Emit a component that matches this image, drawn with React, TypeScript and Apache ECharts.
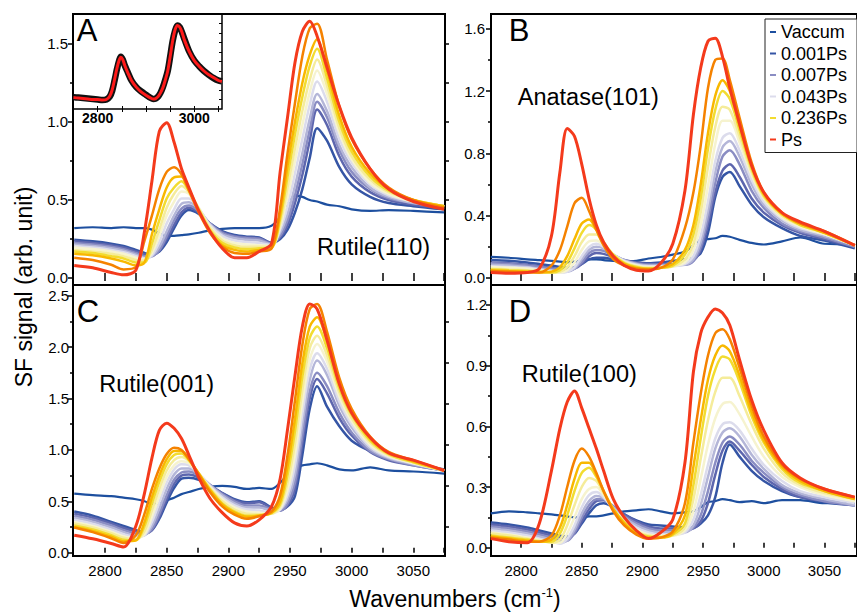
import React, { useEffect, useRef } from 'react';
import * as echarts from 'echarts';

// ---------- data ----------
const wavenumbers = [2775, 2790, 2805, 2815, 2825, 2832, 2838, 2844, 2850, 2856, 2862, 2868, 2876, 2885, 2895, 2905, 2915, 2925, 2935, 2942, 2948, 2954, 2960, 2966, 2972, 2980, 2990, 3000, 3015, 3030, 3050, 3075];

const seriesNames = ['Vaccum', '0.001Ps', 'trace 2', '0.007Ps', 'trace 4', '0.043Ps', 'trace 6', 'trace 7', '0.236Ps', 'trace 9', 'trace 10', 'Ps'];
const legendNames = ['Vaccum', '0.001Ps', '0.007Ps', '0.043Ps', '0.236Ps', 'Ps'];
const lineColors = ['#1d4f9f', '#3555a5', '#5d66ae', '#8a8dc3', '#b4b6d8', '#dcdcec', '#f6f3cf', '#f5ec9a', '#f2dc30', '#f8b800', '#f58200', '#f43a1c'];

// Rutile(110) - panel A
const rutile110Values = [
  [0.32, 0.325, 0.32, 0.325, 0.32, 0.32, 0.31, 0.285, 0.27, 0.27, 0.275, 0.28, 0.29, 0.305, 0.315, 0.32, 0.32, 0.32, 0.335, 0.39, 0.47, 0.53, 0.52, 0.50, 0.49, 0.47, 0.46, 0.44, 0.43, 0.435, 0.43, 0.42],
  [0.245, 0.235, 0.22, 0.205, 0.18, 0.16, 0.15, 0.17, 0.23, 0.32, 0.40, 0.435, 0.41, 0.35, 0.30, 0.275, 0.265, 0.26, 0.225, 0.25, 0.31, 0.42, 0.57, 0.77, 0.96, 0.88, 0.71, 0.60, 0.52, 0.48, 0.46, 0.44],
  [0.235, 0.225, 0.21, 0.195, 0.17, 0.15, 0.145, 0.175, 0.25, 0.34, 0.42, 0.45, 0.42, 0.35, 0.295, 0.27, 0.26, 0.255, 0.225, 0.26, 0.34, 0.48, 0.66, 0.88, 1.08, 0.98, 0.78, 0.65, 0.55, 0.50, 0.47, 0.45],
  [0.225, 0.215, 0.2, 0.185, 0.16, 0.14, 0.14, 0.18, 0.27, 0.37, 0.445, 0.465, 0.43, 0.35, 0.29, 0.265, 0.255, 0.25, 0.22, 0.27, 0.37, 0.53, 0.73, 0.95, 1.13, 1.03, 0.82, 0.68, 0.57, 0.51, 0.48, 0.46],
  [0.215, 0.205, 0.19, 0.175, 0.15, 0.13, 0.14, 0.2, 0.30, 0.40, 0.475, 0.485, 0.44, 0.345, 0.28, 0.255, 0.245, 0.24, 0.215, 0.29, 0.41, 0.59, 0.80, 1.02, 1.18, 1.07, 0.85, 0.71, 0.58, 0.52, 0.48, 0.46],
  [0.205, 0.195, 0.18, 0.165, 0.14, 0.125, 0.145, 0.23, 0.35, 0.44, 0.51, 0.51, 0.445, 0.34, 0.27, 0.24, 0.23, 0.225, 0.21, 0.31, 0.46, 0.67, 0.89, 1.11, 1.26, 1.13, 0.89, 0.74, 0.60, 0.53, 0.49, 0.46],
  [0.195, 0.185, 0.17, 0.155, 0.13, 0.12, 0.16, 0.27, 0.40, 0.49, 0.555, 0.54, 0.45, 0.33, 0.255, 0.225, 0.215, 0.21, 0.205, 0.33, 0.52, 0.75, 0.98, 1.19, 1.33, 1.18, 0.93, 0.76, 0.61, 0.54, 0.49, 0.46],
  [0.18, 0.17, 0.155, 0.14, 0.115, 0.11, 0.18, 0.31, 0.45, 0.54, 0.59, 0.55, 0.445, 0.32, 0.24, 0.21, 0.2, 0.2, 0.2, 0.35, 0.58, 0.83, 1.07, 1.27, 1.40, 1.23, 0.96, 0.78, 0.63, 0.55, 0.50, 0.46],
  [0.17, 0.16, 0.14, 0.125, 0.1, 0.1, 0.22, 0.37, 0.51, 0.58, 0.62, 0.56, 0.44, 0.31, 0.225, 0.195, 0.185, 0.19, 0.195, 0.38, 0.65, 0.92, 1.16, 1.36, 1.47, 1.28, 1.00, 0.81, 0.65, 0.56, 0.50, 0.46],
  [0.155, 0.145, 0.125, 0.105, 0.08, 0.1, 0.28, 0.44, 0.58, 0.645, 0.65, 0.57, 0.43, 0.30, 0.21, 0.18, 0.17, 0.18, 0.19, 0.41, 0.72, 1.00, 1.25, 1.43, 1.53, 1.33, 1.04, 0.84, 0.67, 0.57, 0.50, 0.46],
  [0.13, 0.115, 0.085, 0.055, 0.07, 0.24, 0.40, 0.57, 0.68, 0.71, 0.665, 0.56, 0.42, 0.29, 0.20, 0.16, 0.155, 0.17, 0.19, 0.45, 0.80, 1.12, 1.42, 1.60, 1.63, 1.40, 1.10, 0.89, 0.70, 0.58, 0.50, 0.45],
  [0.08, 0.065, 0.035, 0.02, 0.05, 0.30, 0.62, 0.94, 0.995, 0.87, 0.70, 0.58, 0.43, 0.30, 0.19, 0.13, 0.13, 0.17, 0.22, 0.68, 1.03, 1.38, 1.58, 1.645, 1.55, 1.35, 1.10, 0.90, 0.70, 0.57, 0.49, 0.44],
];

// Anatase(101) - panel B
const anatase101Values = [
  [0.135, 0.13, 0.12, 0.115, 0.11, 0.105, 0.10, 0.105, 0.11, 0.12, 0.12, 0.115, 0.11, 0.105, 0.11, 0.125, 0.135, 0.15, 0.17, 0.21, 0.245, 0.25, 0.255, 0.27, 0.265, 0.245, 0.225, 0.215, 0.235, 0.26, 0.22, 0.215],
  [0.115, 0.11, 0.10, 0.09, 0.08, 0.07, 0.065, 0.07, 0.09, 0.12, 0.13, 0.13, 0.12, 0.11, 0.10, 0.095, 0.10, 0.11, 0.12, 0.13, 0.16, 0.29, 0.52, 0.65, 0.68, 0.59, 0.47, 0.39, 0.32, 0.27, 0.24, 0.19],
  [0.10, 0.095, 0.085, 0.075, 0.065, 0.055, 0.05, 0.06, 0.09, 0.14, 0.16, 0.155, 0.135, 0.115, 0.10, 0.09, 0.09, 0.09, 0.09, 0.11, 0.18, 0.34, 0.55, 0.69, 0.73, 0.65, 0.51, 0.42, 0.34, 0.29, 0.25, 0.20],
  [0.095, 0.09, 0.08, 0.07, 0.06, 0.05, 0.045, 0.06, 0.10, 0.16, 0.18, 0.175, 0.145, 0.115, 0.095, 0.085, 0.085, 0.085, 0.085, 0.11, 0.20, 0.38, 0.61, 0.78, 0.82, 0.73, 0.56, 0.45, 0.35, 0.30, 0.26, 0.20],
  [0.085, 0.08, 0.07, 0.06, 0.05, 0.04, 0.04, 0.06, 0.12, 0.18, 0.20, 0.19, 0.15, 0.115, 0.09, 0.08, 0.08, 0.08, 0.085, 0.12, 0.23, 0.43, 0.68, 0.84, 0.88, 0.78, 0.60, 0.47, 0.37, 0.31, 0.27, 0.21],
  [0.075, 0.07, 0.065, 0.055, 0.045, 0.035, 0.04, 0.07, 0.14, 0.20, 0.22, 0.20, 0.15, 0.11, 0.085, 0.075, 0.075, 0.075, 0.09, 0.14, 0.27, 0.49, 0.75, 0.90, 0.93, 0.82, 0.63, 0.49, 0.38, 0.32, 0.28, 0.21],
  [0.07, 0.065, 0.06, 0.05, 0.04, 0.035, 0.05, 0.10, 0.18, 0.235, 0.24, 0.21, 0.15, 0.105, 0.08, 0.07, 0.07, 0.075, 0.10, 0.18, 0.34, 0.59, 0.86, 1.01, 1.01, 0.87, 0.66, 0.51, 0.39, 0.33, 0.28, 0.21],
  [0.06, 0.055, 0.05, 0.045, 0.035, 0.04, 0.07, 0.14, 0.23, 0.28, 0.28, 0.22, 0.15, 0.10, 0.075, 0.065, 0.065, 0.075, 0.12, 0.22, 0.42, 0.71, 0.97, 1.10, 1.08, 0.91, 0.68, 0.52, 0.40, 0.34, 0.29, 0.21],
  [0.055, 0.05, 0.045, 0.04, 0.035, 0.05, 0.10, 0.19, 0.29, 0.34, 0.31, 0.23, 0.15, 0.095, 0.07, 0.06, 0.065, 0.08, 0.15, 0.28, 0.51, 0.83, 1.08, 1.20, 1.15, 0.95, 0.70, 0.53, 0.41, 0.34, 0.29, 0.21],
  [0.05, 0.045, 0.04, 0.035, 0.04, 0.07, 0.14, 0.25, 0.35, 0.375, 0.31, 0.22, 0.14, 0.09, 0.065, 0.06, 0.065, 0.09, 0.18, 0.34, 0.60, 0.93, 1.17, 1.27, 1.20, 0.98, 0.72, 0.54, 0.41, 0.35, 0.29, 0.21],
  [0.045, 0.04, 0.035, 0.035, 0.08, 0.18, 0.33, 0.48, 0.515, 0.43, 0.31, 0.21, 0.12, 0.08, 0.06, 0.055, 0.065, 0.12, 0.32, 0.55, 0.85, 1.22, 1.40, 1.41, 1.27, 1.03, 0.74, 0.55, 0.42, 0.35, 0.30, 0.21],
  [0.035, 0.03, 0.035, 0.06, 0.27, 0.68, 0.96, 0.91, 0.73, 0.51, 0.34, 0.23, 0.14, 0.08, 0.05, 0.045, 0.095, 0.22, 0.56, 1.05, 1.35, 1.52, 1.54, 1.42, 1.22, 0.99, 0.72, 0.55, 0.42, 0.36, 0.30, 0.21],
];

// Rutile(001) - panel C
const rutile001Values = [
  [0.575, 0.56, 0.55, 0.535, 0.52, 0.50, 0.475, 0.48, 0.51, 0.535, 0.57, 0.59, 0.62, 0.64, 0.65, 0.64, 0.62, 0.63, 0.62, 0.68, 0.76, 0.82, 0.85, 0.86, 0.87, 0.85, 0.81, 0.80, 0.83, 0.80, 0.79, 0.77],
  [0.40, 0.36, 0.30, 0.26, 0.22, 0.20, 0.22, 0.33, 0.49, 0.63, 0.72, 0.73, 0.71, 0.65, 0.58, 0.52, 0.49, 0.50, 0.44, 0.42, 0.45, 0.55, 0.95, 1.40, 1.62, 1.42, 1.23, 1.09, 0.99, 0.93, 0.87, 0.81],
  [0.38, 0.34, 0.285, 0.24, 0.205, 0.19, 0.22, 0.35, 0.52, 0.67, 0.75, 0.76, 0.73, 0.66, 0.58, 0.51, 0.48, 0.49, 0.43, 0.41, 0.46, 0.62, 1.06, 1.50, 1.69, 1.55, 1.31, 1.14, 0.98, 0.90, 0.85, 0.80],
  [0.36, 0.32, 0.265, 0.22, 0.19, 0.18, 0.23, 0.38, 0.56, 0.71, 0.78, 0.79, 0.75, 0.66, 0.57, 0.50, 0.46, 0.46, 0.42, 0.41, 0.48, 0.68, 1.14, 1.57, 1.75, 1.62, 1.36, 1.17, 0.99, 0.91, 0.85, 0.80],
  [0.34, 0.30, 0.245, 0.20, 0.17, 0.17, 0.26, 0.43, 0.62, 0.76, 0.82, 0.82, 0.76, 0.66, 0.56, 0.48, 0.44, 0.44, 0.41, 0.42, 0.52, 0.76, 1.25, 1.68, 1.87, 1.73, 1.43, 1.22, 1.01, 0.92, 0.86, 0.80],
  [0.32, 0.28, 0.225, 0.18, 0.155, 0.17, 0.30, 0.49, 0.68, 0.81, 0.86, 0.85, 0.77, 0.65, 0.54, 0.46, 0.42, 0.41, 0.39, 0.42, 0.56, 0.85, 1.35, 1.78, 1.94, 1.79, 1.47, 1.25, 1.03, 0.93, 0.87, 0.80],
  [0.30, 0.26, 0.205, 0.16, 0.14, 0.18, 0.35, 0.55, 0.74, 0.85, 0.89, 0.87, 0.77, 0.64, 0.52, 0.44, 0.40, 0.39, 0.38, 0.43, 0.61, 0.95, 1.46, 1.88, 2.03, 1.86, 1.52, 1.28, 1.05, 0.94, 0.87, 0.80],
  [0.285, 0.245, 0.19, 0.145, 0.13, 0.21, 0.41, 0.62, 0.80, 0.90, 0.93, 0.89, 0.77, 0.63, 0.50, 0.42, 0.38, 0.375, 0.38, 0.45, 0.68, 1.06, 1.58, 1.99, 2.11, 1.92, 1.56, 1.31, 1.07, 0.95, 0.88, 0.80],
  [0.265, 0.225, 0.17, 0.125, 0.12, 0.26, 0.48, 0.69, 0.86, 0.95, 0.965, 0.90, 0.77, 0.62, 0.48, 0.40, 0.36, 0.365, 0.385, 0.47, 0.76, 1.18, 1.71, 2.09, 2.20, 1.99, 1.60, 1.34, 1.09, 0.96, 0.88, 0.80],
  [0.25, 0.21, 0.155, 0.11, 0.12, 0.30, 0.54, 0.75, 0.91, 0.99, 0.99, 0.91, 0.77, 0.61, 0.47, 0.39, 0.35, 0.36, 0.39, 0.50, 0.84, 1.30, 1.84, 2.20, 2.29, 2.06, 1.65, 1.37, 1.11, 0.97, 0.89, 0.80],
  [0.245, 0.20, 0.14, 0.095, 0.17, 0.38, 0.62, 0.82, 0.96, 1.02, 1.00, 0.91, 0.76, 0.59, 0.45, 0.37, 0.33, 0.355, 0.40, 0.56, 0.95, 1.48, 2.02, 2.37, 2.42, 2.15, 1.70, 1.40, 1.13, 0.98, 0.90, 0.80],
  [0.17, 0.135, 0.09, 0.055, 0.26, 0.58, 0.92, 1.19, 1.26, 1.21, 1.11, 0.95, 0.73, 0.53, 0.39, 0.29, 0.26, 0.32, 0.45, 0.72, 1.20, 1.72, 2.20, 2.42, 2.37, 2.07, 1.64, 1.36, 1.12, 0.97, 0.90, 0.80],
];

// Rutile(100) - panel D
const rutile100Values = [
  [0.17, 0.18, 0.175, 0.17, 0.165, 0.16, 0.155, 0.15, 0.15, 0.155, 0.155, 0.16, 0.17, 0.18, 0.185, 0.19, 0.18, 0.17, 0.175, 0.18, 0.20, 0.225, 0.23, 0.24, 0.235, 0.225, 0.23, 0.22, 0.235, 0.235, 0.22, 0.22],
  [0.125, 0.115, 0.10, 0.085, 0.07, 0.06, 0.055, 0.07, 0.12, 0.17, 0.21, 0.22, 0.20, 0.165, 0.135, 0.115, 0.11, 0.105, 0.10, 0.10, 0.12, 0.16, 0.25, 0.42, 0.51, 0.45, 0.38, 0.33, 0.28, 0.25, 0.225, 0.21],
  [0.115, 0.105, 0.09, 0.075, 0.06, 0.05, 0.045, 0.07, 0.13, 0.19, 0.23, 0.235, 0.205, 0.165, 0.13, 0.105, 0.095, 0.095, 0.09, 0.095, 0.13, 0.22, 0.36, 0.48, 0.525, 0.48, 0.41, 0.35, 0.29, 0.25, 0.23, 0.21],
  [0.105, 0.095, 0.08, 0.065, 0.05, 0.035, 0.035, 0.075, 0.15, 0.21, 0.24, 0.24, 0.20, 0.155, 0.12, 0.095, 0.085, 0.085, 0.08, 0.10, 0.16, 0.28, 0.42, 0.52, 0.55, 0.51, 0.43, 0.37, 0.30, 0.26, 0.23, 0.21],
  [0.095, 0.085, 0.07, 0.055, 0.04, 0.025, 0.035, 0.09, 0.17, 0.23, 0.255, 0.245, 0.20, 0.15, 0.11, 0.085, 0.075, 0.075, 0.075, 0.11, 0.21, 0.35, 0.49, 0.57, 0.59, 0.55, 0.46, 0.39, 0.31, 0.27, 0.24, 0.21],
  [0.085, 0.075, 0.06, 0.045, 0.03, 0.02, 0.045, 0.11, 0.20, 0.26, 0.275, 0.25, 0.19, 0.14, 0.10, 0.075, 0.065, 0.065, 0.075, 0.14, 0.26, 0.41, 0.54, 0.61, 0.62, 0.58, 0.49, 0.41, 0.33, 0.28, 0.25, 0.22],
  [0.075, 0.065, 0.05, 0.04, 0.025, 0.025, 0.07, 0.15, 0.24, 0.29, 0.30, 0.26, 0.19, 0.135, 0.09, 0.065, 0.06, 0.06, 0.085, 0.18, 0.34, 0.51, 0.64, 0.71, 0.72, 0.66, 0.55, 0.45, 0.35, 0.30, 0.26, 0.23],
  [0.07, 0.06, 0.045, 0.035, 0.025, 0.04, 0.11, 0.21, 0.30, 0.345, 0.33, 0.27, 0.19, 0.13, 0.08, 0.06, 0.055, 0.06, 0.10, 0.24, 0.44, 0.63, 0.77, 0.84, 0.84, 0.75, 0.61, 0.49, 0.37, 0.31, 0.27, 0.24],
  [0.06, 0.05, 0.04, 0.03, 0.03, 0.07, 0.16, 0.28, 0.37, 0.395, 0.35, 0.28, 0.19, 0.125, 0.075, 0.055, 0.05, 0.065, 0.12, 0.31, 0.54, 0.75, 0.88, 0.945, 0.93, 0.82, 0.65, 0.52, 0.39, 0.32, 0.28, 0.24],
  [0.055, 0.045, 0.035, 0.03, 0.04, 0.10, 0.21, 0.34, 0.42, 0.42, 0.36, 0.28, 0.19, 0.12, 0.07, 0.05, 0.05, 0.07, 0.16, 0.40, 0.63, 0.83, 0.95, 1.00, 0.97, 0.85, 0.67, 0.53, 0.40, 0.33, 0.28, 0.24],
  [0.05, 0.04, 0.03, 0.03, 0.06, 0.16, 0.30, 0.43, 0.49, 0.45, 0.37, 0.28, 0.18, 0.11, 0.065, 0.045, 0.05, 0.08, 0.22, 0.52, 0.76, 0.95, 1.06, 1.08, 1.03, 0.89, 0.70, 0.55, 0.41, 0.34, 0.29, 0.25],
  [0.045, 0.03, 0.025, 0.12, 0.38, 0.59, 0.72, 0.775, 0.69, 0.59, 0.49, 0.38, 0.24, 0.15, 0.085, 0.045, 0.075, 0.14, 0.42, 0.87, 1.06, 1.14, 1.18, 1.16, 1.10, 0.93, 0.73, 0.58, 0.42, 0.345, 0.29, 0.25],
];

// Inset of panel A: measured spectrum and fit
const insetWavenumbers = [2750, 2760, 2770, 2780, 2790, 2800, 2810, 2818, 2825, 2830, 2835, 2840, 2845, 2848, 2852, 2856, 2862, 2870, 2880, 2890, 2900, 2910, 2915, 2920, 2925, 2930, 2935, 2940, 2945, 2950, 2955, 2960, 2965, 2970, 2975, 2980, 2990, 3000, 3010, 3020, 3030, 3040, 3050, 3057];
const insetMeasured = [0.125, 0.12, 0.115, 0.11, 0.105, 0.10, 0.095, 0.10, 0.13, 0.19, 0.30, 0.42, 0.52, 0.55, 0.52, 0.46, 0.39, 0.30, 0.23, 0.185, 0.15, 0.115, 0.105, 0.11, 0.13, 0.17, 0.23, 0.31, 0.40, 0.55, 0.71, 0.82, 0.88, 0.86, 0.80, 0.73, 0.60, 0.51, 0.45, 0.40, 0.36, 0.325, 0.30, 0.29];
const insetFit = [0.12, 0.115, 0.11, 0.105, 0.10, 0.10, 0.095, 0.10, 0.135, 0.20, 0.31, 0.43, 0.52, 0.545, 0.52, 0.46, 0.385, 0.30, 0.23, 0.18, 0.145, 0.115, 0.105, 0.11, 0.13, 0.17, 0.225, 0.305, 0.40, 0.55, 0.71, 0.83, 0.88, 0.86, 0.80, 0.72, 0.60, 0.51, 0.45, 0.40, 0.36, 0.33, 0.30, 0.29];

// ticks
const xTicks = [2800, 2825, 2850, 2875, 2900, 2925, 2950, 2975, 3000, 3025, 3050, 3075];
const xTickLabels = [2800, 2850, 2900, 2950, 3000, 3050];
const insetTicks = [2800, 2850, 2900, 2950, 3000, 3050];
const insetTickLabels = [2800, 3000];
const yLabelsA = [0, 0.5, 1.0, 1.5];
const yMinorA = [0.25, 0.75, 1.25];
const yRightA = [0.25, 0.5, 0.75, 1.0, 1.25, 1.5];
const yLabelsB = [0, 0.4, 0.8, 1.2, 1.6];
const yMinorB = [0.2, 0.6, 1.0, 1.4];
const yLabelsC = [0, 0.5, 1.0, 1.5, 2.0, 2.5];
const yMinorC = [0.25, 0.75, 1.25, 1.75, 2.25];
const yRightC = [0.25, 0.65, 1.05, 1.45, 1.85, 2.25];
const yLabelsD = [0, 0.3, 0.6, 0.9, 1.2];
const yMinorD = [0.15, 0.45, 0.75, 1.05];

const FONT = "'Liberation Sans', Arial, Helvetica, sans-serif";

function buildOption() {
  const tickStyle = { color: '#000', width: 1.5 };
  const panels = [
    { values: rutile110Values, grid: { left: 73, top: 14, width: 372, height: 271 }, xMin: 2774, xMax: 3075.7, yMin: -0.045, yMax: 1.692, yLabels: yLabelsA, yMinor: yMinorA, yRight: yRightA, xLabels: false, top: true, lm: 5 },
    { values: anatase101Values, grid: { left: 491, top: 14, width: 374, height: 271 }, xMin: 2775.2, xMax: 3076.8, yMin: -0.045, yMax: 1.695, yLabels: yLabelsB, yMinor: yMinorB, yRight: null, xLabels: false, top: true, lm: 6 },
    { values: rutile001Values, grid: { left: 73, top: 285, width: 372, height: 271 }, xMin: 2774, xMax: 3075.7, yMin: -0.032, yMax: 2.604, yLabels: yLabelsC, yMinor: yMinorC, yRight: yRightC, xLabels: true, top: false, lm: 4 },
    { values: rutile100Values, grid: { left: 491, top: 285, width: 374, height: 271 }, xMin: 2775.2, xMax: 3076.8, yMin: -0.041, yMax: 1.2986, yLabels: yLabelsD, yMinor: yMinorD, yRight: null, xLabels: true, top: false, lm: 4 },
  ];

  const grid: any[] = [];
  const xAxis: any[] = [];
  const yAxis: any[] = [];
  const series: any[] = [];

  panels.forEach((p, gi) => {
    grid.push({ ...p.grid, show: true, borderColor: '#000', borderWidth: 2, backgroundColor: 'transparent' });
    const xIdx = xAxis.length;
    xAxis.push({
      type: 'value', gridIndex: gi, position: 'bottom', min: p.xMin, max: p.xMax,
      axisLine: { show: false }, splitLine: { show: false },
      axisTick: { show: true, inside: true, length: 5, customValues: xTicks, lineStyle: tickStyle },
      axisLabel: { show: p.xLabels, customValues: xTickLabels, margin: 7, fontSize: 15, color: '#000', fontFamily: FONT, formatter: (v: number) => String(v) },
    });
    if (p.top) {
      xAxis.push({
        type: 'value', gridIndex: gi, position: 'top', min: p.xMin, max: p.xMax,
        axisLine: { show: false }, splitLine: { show: false },
        axisTick: { show: true, inside: true, length: 3, customValues: xTicks, lineStyle: tickStyle },
        axisLabel: { show: false },
      });
    }
    const yIdx = yAxis.length;
    yAxis.push({
      type: 'value', gridIndex: gi, position: 'left', min: p.yMin, max: p.yMax,
      axisLine: { show: false }, splitLine: { show: false },
      axisTick: { show: true, inside: false, length: 5, customValues: p.yLabels, lineStyle: tickStyle },
      axisLabel: { show: true, customValues: p.yLabels, margin: p.lm, fontSize: 15, color: '#000', fontFamily: FONT, formatter: (v: number) => v.toFixed(1) },
    });
    yAxis.push({
      type: 'value', gridIndex: gi, position: 'left', min: p.yMin, max: p.yMax,
      axisLine: { show: false }, splitLine: { show: false }, axisLabel: { show: false },
      axisTick: { show: true, inside: false, length: 3, customValues: p.yMinor, lineStyle: tickStyle },
    });
    if (p.yRight) {
      yAxis.push({
        type: 'value', gridIndex: gi, position: 'right', min: p.yMin, max: p.yMax,
        axisLine: { show: false }, splitLine: { show: false }, axisLabel: { show: false },
        axisTick: { show: true, inside: false, length: 4, customValues: p.yRight, lineStyle: tickStyle },
      });
    }
    p.values.forEach((vals, si) => {
      series.push({
        type: 'line', name: seriesNames[si], xAxisIndex: xIdx, yAxisIndex: yIdx,
        data: wavenumbers.map((x, k) => [x, vals[k]]),
        smooth: 0.3, showSymbol: false, silent: true, clip: true,
        lineStyle: { width: si === 11 ? 3 : si === 0 ? 2.2 : 2.5, color: lineColors[si] },
        itemStyle: { color: lineColors[si] },
        z: 2 + si * 0.01,
      });
    });
  });

  // inset grid
  const insetGrid = grid.length;
  grid.push({ left: 73, top: 14, width: 149, height: 95, show: true, borderColor: '#000', borderWidth: 1.5, backgroundColor: 'transparent' });
  const insetX = xAxis.length;
  xAxis.push({
    type: 'value', gridIndex: insetGrid, position: 'bottom', min: 2749, max: 3057.3,
    axisLine: { show: false }, splitLine: { show: false },
    axisTick: { show: true, inside: true, length: 3, customValues: insetTicks, lineStyle: { color: '#000', width: 1 } },
    axisLabel: { show: true, customValues: insetTickLabels, margin: 2, fontSize: 14, fontWeight: 'bold', color: '#000', fontFamily: FONT, formatter: (v: number) => String(v) },
  });
  xAxis.push({
    type: 'value', gridIndex: insetGrid, position: 'top', min: 2749, max: 3057.3,
    axisLine: { show: false }, splitLine: { show: false }, axisLabel: { show: false },
    axisTick: { show: true, inside: true, length: 3, customValues: insetTicks, lineStyle: { color: '#000', width: 1 } },
  });
  const insetY = yAxis.length;
  yAxis.push({
    type: 'value', gridIndex: insetGrid, position: 'left', min: 0, max: 1,
    axisLine: { show: false }, splitLine: { show: false }, axisLabel: { show: false }, axisTick: { show: false },
  });
  yAxis.push({
    type: 'value', gridIndex: insetGrid, position: 'right', min: 0, max: 1,
    axisLine: { show: false }, splitLine: { show: false }, axisLabel: { show: false },
    axisTick: { show: true, inside: true, length: 3, customValues: [0.1, 0.2, 0.3, 0.4, 0.5, 0.6, 0.7, 0.8, 0.9], lineStyle: { color: '#000', width: 1 } },
  });
  series.push({
    type: 'line', name: 'measured', xAxisIndex: insetX, yAxisIndex: insetY,
    data: insetWavenumbers.map((x, k) => [x, insetMeasured[k]]),
    smooth: 0.3, showSymbol: false, silent: true,
    lineStyle: { width: 6.5, color: '#111' }, itemStyle: { color: '#111' }, z: 5,
  });
  series.push({
    type: 'line', name: 'fit', xAxisIndex: insetX, yAxisIndex: insetY,
    data: insetWavenumbers.map((x, k) => [x, insetFit[k]]),
    smooth: 0.3, showSymbol: false, silent: true,
    lineStyle: { width: 3, color: '#ff1a1a' }, itemStyle: { color: '#ff1a1a' }, z: 6,
  });

  const txt = (text: string, x: number, y: number, size: number, extra: any = {}) => ({
    type: 'text', x, y, z: 100, silent: true, ...extra,
    style: { text, fontSize: size, fontFamily: FONT, fill: '#000', align: 'center', verticalAlign: 'middle', textAlign: 'center', textVerticalAlign: 'middle' },
  });

  const graphic = [
    txt('A', 87, 30, 31),
    txt('B', 519, 30, 31),
    txt('C', 88, 311, 31),
    txt('D', 520, 311, 31),
    txt('Rutile(110)', 373.5, 247, 23.5),
    txt('Anatase(101)', 588.3, 97, 23.5),
    txt('Rutile(001)', 156.7, 384, 23.5),
    txt('Rutile(100)', 579.3, 374, 23.5),
    txt('SF signal (arb. unit)', 24, 287, 23, { rotation: Math.PI / 2 }),
    {
      type: 'text', x: 455, y: 599, z: 100, silent: true,
      style: {
        text: '{a|Wavenumbers (cm}{s|-1}{a|)}',
        align: 'center', verticalAlign: 'middle', textAlign: 'center', textVerticalAlign: 'middle',
        fontFamily: FONT, fill: '#000',
        rich: {
          a: { fontSize: 23, fontFamily: FONT, fill: '#000', color: '#000', lineHeight: 26 },
          s: { fontSize: 13, fontFamily: FONT, fill: '#000', color: '#000', lineHeight: 13, verticalAlign: 'top' },
        },
      },
    },
  ];

  return {
    animation: false,
    backgroundColor: '#fff',
    textStyle: { fontFamily: FONT },
    grid, xAxis, yAxis, series, graphic,
    legend: {
      data: legendNames, orient: 'vertical', left: 765, top: 19,
      itemWidth: 6, itemHeight: 2, itemGap: 3.5, icon: 'rect', selectedMode: false,
      textStyle: { fontSize: 18, color: '#000', fontFamily: FONT, lineHeight: 18 },
      borderColor: '#222', borderWidth: 1, padding: [4, 10, 4, 5], backgroundColor: '#fff', z: 50,
    },
  };
}

export default function App() {
  const ref = useRef<HTMLDivElement>(null);
  useEffect(() => {
    if (!ref.current) return;
    const chart = echarts.init(ref.current, undefined, { renderer: 'svg' });
    chart.setOption(buildOption() as any);
    return () => chart.dispose();
  }, []);
  return <div ref={ref} style={{ position: 'fixed', left: 0, top: 0, width: 857, height: 612, background: '#fff' }} />;
}
